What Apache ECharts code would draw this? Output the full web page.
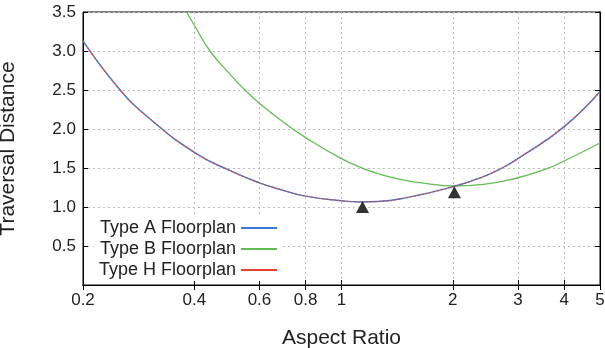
<!DOCTYPE html>
<html><head><meta charset="utf-8">
<script src="https://cdn.jsdelivr.net/npm/echarts@6/dist/echarts.min.js"></script>
<style>html,body{margin:0;padding:0;background:#fff}#c{width:605px;height:348px}</style>
</head><body><div id="c"></div>
<script>
const xTicks = [0.2, 0.4, 0.6, 0.8, 1, 2, 3, 4, 5];
const yTicks = [0.5, 1.0, 1.5, 2.0, 2.5, 3.0, 3.5];

const typeAX = [0.2, 0.25, 0.3, 0.4, 0.5, 0.6, 0.7, 0.8, 1.0, 1.12, 1.25, 1.5, 2.0, 2.42, 2.68, 3.0, 4.0, 5.0];
const typeAY = [3.13, 2.52, 2.15, 1.70, 1.465, 1.31, 1.21, 1.14, 1.08, 1.065, 1.07, 1.12, 1.26, 1.39, 1.485, 1.62, 2.03, 2.48];

const typeBX = [0.381, 0.4, 0.441, 0.5, 0.548, 0.6, 0.7, 0.8, 1.0, 1.13, 1.25, 1.44, 1.7, 2.0, 2.42, 3.0, 3.58, 4.0, 5.0];
const typeBY = [3.5, 3.33, 3.0, 2.70, 2.5, 2.33, 2.08, 1.89, 1.62, 1.505, 1.43, 1.355, 1.30, 1.27, 1.29, 1.375, 1.49, 1.59, 1.82];

const typeHX = [0.2, 0.25, 0.3, 0.4, 0.5, 0.6, 0.7, 0.8, 1.0, 1.12, 1.25, 1.5, 2.0, 2.42, 2.68, 3.0, 4.0, 5.0];
const typeHY = [3.13, 2.52, 2.15, 1.70, 1.465, 1.31, 1.21, 1.14, 1.08, 1.065, 1.07, 1.12, 1.26, 1.39, 1.485, 1.62, 2.03, 2.48];

const markerX = [1.14, 2.02];
const markerY = [1.0, 1.19];

const seriesNames = ['Type A Floorplan', 'Type B Floorplan', 'Type H Floorplan'];
const colors = ['#3b7bd4', '#62bd52', '#e8412f'];

const zip = (xs, ys) => xs.map((x, i) => [x, ys[i]]);
const FONT = 'Liberation Sans, Arial, Helvetica, sans-serif';
const fmtX = v => String(+(+v).toPrecision(3));

const chart = echarts.init(document.getElementById('c'), null, {renderer: 'canvas'});
const baseX = {
  type: 'log', logBase: 10, min: 0.2, max: 5
};
chart.setOption({
  animation: false,
  backgroundColor: '#fff',
  grid: {left: 83, right: 5, top: 12, bottom: 63, show: true, borderColor: '#000', borderWidth: 1,
    containLabel: false, outerBoundsMode: 'none'},
  legend: {
    orient: 'vertical', left: 94, top: 217, align: 'right',
    padding: [2, 5], backgroundColor: '#fff',
    itemWidth: 36, itemHeight: 2, itemGap: 3, icon: 'rect',
    textStyle: {fontFamily: FONT, fontSize: 18, color: '#222', lineHeight: 18},
    data: seriesNames
  },
  xAxis: [
    Object.assign({}, baseX, {
      position: 'bottom',
      name: 'Aspect Ratio', nameLocation: 'middle', nameGap: 43,
      nameTextStyle: {fontFamily: FONT, fontSize: 21, color: '#222'},
      axisLine: {show: true, lineStyle: {color: '#000', width: 1}},
      axisTick: {show: true, inside: true, length: 5, lineStyle: {color: '#000'}, customValues: xTicks},
      axisLabel: {show: true, margin: 7, fontFamily: FONT, fontSize: 17, color: '#222', formatter: fmtX, customValues: xTicks},
      splitLine: {show: true, lineStyle: {color: '#bdbdbd', type: [2, 3], width: 1}},
      minorTick: {show: false}, minorSplitLine: {show: false}
    }),
    Object.assign({}, baseX, {
      position: 'top',
      axisLine: {show: true, lineStyle: {color: '#000', width: 1}},
      axisTick: {show: true, inside: true, length: 5, lineStyle: {color: '#000'}, customValues: xTicks},
      axisLabel: {show: false, customValues: xTicks},
      splitLine: {show: false}
    })
  ],
  yAxis: [
    {
      type: 'value', min: 0, max: 3.5, interval: 0.5, position: 'left',
      name: 'Traversal Distance', nameLocation: 'middle', nameGap: 64,
      nameTextStyle: {fontFamily: FONT, fontSize: 21, color: '#222'},
      axisLine: {show: true, lineStyle: {color: '#000', width: 1}},
      axisTick: {show: true, inside: true, length: 5, lineStyle: {color: '#000'}},
      axisLabel: {margin: 7, fontFamily: FONT, fontSize: 17, color: '#222',
        formatter: v => (yTicks.some(t => Math.abs(t - v) < 1e-9) ? v.toFixed(1) : '')},
      splitLine: {show: true, lineStyle: {color: '#bdbdbd', type: [2, 3], width: 1}}
    },
    {
      type: 'value', min: 0, max: 3.5, interval: 0.5, position: 'right',
      axisLine: {show: true, lineStyle: {color: '#000', width: 1}},
      axisTick: {show: true, inside: true, length: 5, lineStyle: {color: '#000'}},
      axisLabel: {show: false}, splitLine: {show: false}
    }
  ],
  series: [
    {name: seriesNames[0], type: 'line', smooth: true, showSymbol: false, symbol: 'none',
      data: zip(typeAX, typeAY), itemStyle: {color: colors[0]}, lineStyle: {color: colors[0], width: 1.4}, z: 3},
    {name: seriesNames[1], type: 'line', smooth: true, showSymbol: false, symbol: 'none',
      data: zip(typeBX, typeBY), itemStyle: {color: colors[1]}, lineStyle: {color: colors[1], width: 1.3}, z: 2},
    {name: seriesNames[2], type: 'line', smooth: true, showSymbol: false, symbol: 'none',
      data: zip(typeHX, typeHY), itemStyle: {color: colors[2]}, lineStyle: {color: colors[2], width: 1.1, type: [2, 2]}, z: 4},
    {type: 'scatter', symbol: 'triangle', symbolSize: [13, 12],
      data: zip(markerX, markerY), itemStyle: {color: '#000'}, z: 5, silent: true}
  ]
});
</script>
</body></html>
